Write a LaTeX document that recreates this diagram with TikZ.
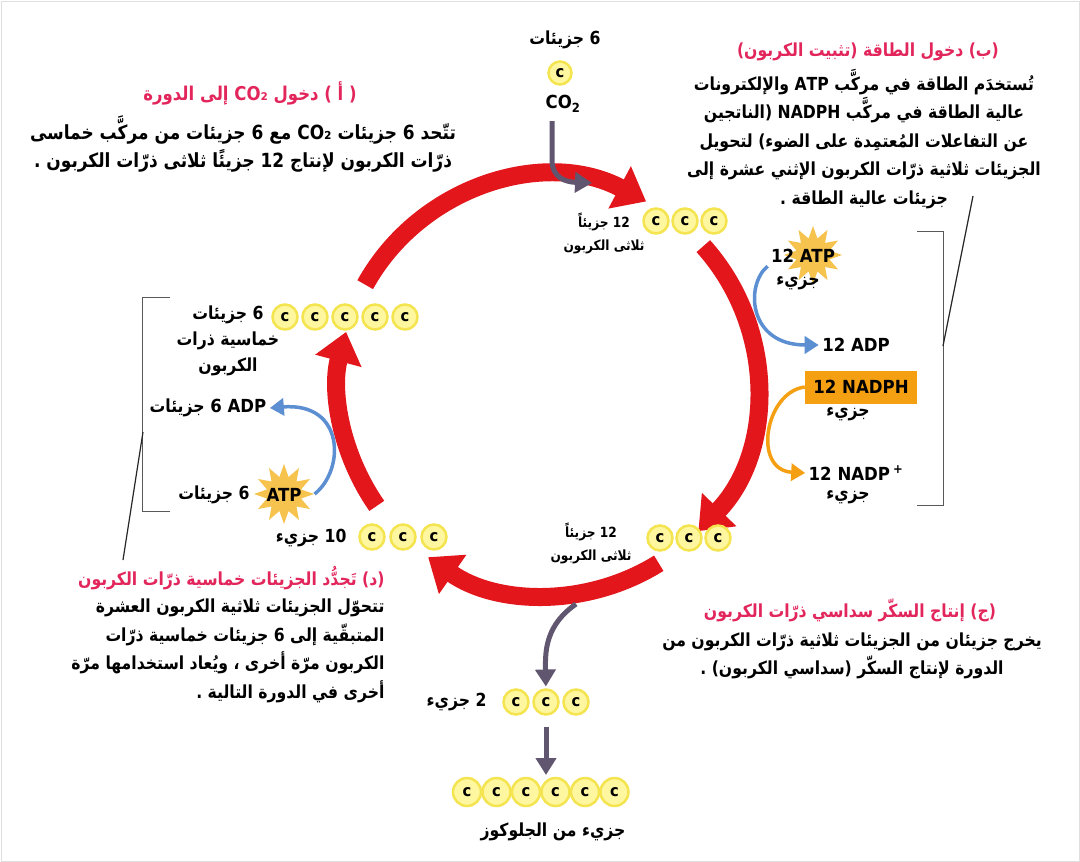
\documentclass[tikz,border=0pt]{standalone}
\usepackage{fontspec}
\setmainfont{DejaVu Sans}[FakeStretch=0.92]
\newfontfamily\arabicfont[Script=Arabic, FakeStretch=0.87]{DejaVu Sans}
\TeXXeTstate=1
\usetikzlibrary{shapes.geometric, arrows.meta, positioning, calc}

\definecolor{cycred}{RGB}{227,22,28}
\definecolor{headpink}{RGB}{226,38,92}
\definecolor{cring}{RGB}{243,228,80}
\definecolor{cinner}{RGB}{255,247,160}
\definecolor{starcol}{RGB}{246,196,78}
\definecolor{arrblue}{RGB}{92,142,210}
\definecolor{arrorange}{RGB}{244,160,18}
\definecolor{arrgray}{RGB}{96,86,112}

\newcommand{\artx}[1]{{\arabicfont\beginR #1\endR}}

\tikzset{
  carbon/.style={circle, draw=cring, fill=cinner, line width=2.5pt, minimum size=25pt, inner sep=0pt, outer sep=0pt, font=\bfseries\fontsize{16}{16}\selectfont},
  bigcarbon/.style={carbon, minimum size=28pt},
  sechead/.style={font=\bfseries\fontsize{18}{28}\selectfont, text=headpink, align=center},
  secbody/.style={font=\bfseries\fontsize{18}{28.5}\selectfont, align=center},
  lbl/.style={font=\bfseries\fontsize{18}{26}\selectfont, align=center},
  smalllbl/.style={font=\bfseries\fontsize{14}{23}\selectfont, align=center},
  burst/.style={star, star points=12, star point ratio=1.7, fill=starcol, inner sep=0pt},
  cycarrow/.style={cycred, line width=18pt, -{Triangle[length=30pt, width=46pt]}},
  thinarrow/.style={line width=3.5pt, -{Triangle[length=14pt, width=17pt]}},
  grayarrow/.style={arrgray, line width=5pt, -{Triangle[length=17pt, width=20pt]}},
  bracket/.style={gray!70!black, line width=1pt},
  ptrline/.style={black!85, line width=1.2pt}
}

\begin{document}
\begin{tikzpicture}[x=1pt, y=-1pt]
\useasboundingbox (0,0) rectangle (1080,862);
\fill[white] (0,0) rectangle (1080,862);
\draw[gray!25] (1,1) rectangle (1079,861);

% Calvin cycle arrows
\coordinate (cen) at (548,386);
\coordinate (ta) at ($(cen)+(209:209)$);
\coordinate (tb) at ($(cen)+(318:209)$);
\coordinate (tc) at ($(cen)+(58:209)$);
\coordinate (td) at ($(cen)+(145:209)$);
\draw[cycarrow] (ta) arc[start angle=209, end angle=298, radius=209];
\draw[cycarrow] (tb) arc[start angle=318, end angle=404, radius=209];
\draw[cycarrow] (tc) arc[start angle=58, end angle=125, radius=209];
\draw[cycarrow] (td) arc[start angle=145, end angle=195, radius=209];

% CO2 entering
\node[lbl] (nco2) at (565,40) {\artx{6 جزيئات}};
\node[carbon, minimum size=23pt] (cco2) at (560,73) {c};
\node[lbl] (lco2) at (563,104) {CO\textsubscript{2}};
\coordinate (co2a) at (552,121);
\coordinate (co2b) at (592,183);
\draw[grayarrow] (co2a) -- (552,160) .. controls (552,178) and (566,182) .. (co2b);

% Carbon groups
\node[carbon] (t1) at (656,221) {c};
\node[carbon, right=4pt of t1] (t2) {c};
\node[carbon, right=4pt of t2] (t3) {c};
\node[smalllbl] (tlab) at (604,233) {\artx{12 جزيئاً}\\ \artx{ثلاثى الكربون}};

\node[carbon] (l1) at (285,317) {c};
\node[carbon, right=5pt of l1] (l2) {c};
\node[carbon, right=5pt of l2] (l3) {c};
\node[carbon, right=5pt of l3] (l4) {c};
\node[carbon, right=5pt of l4] (l5) {c};
\node[lbl] (llab) at (228,341) {\artx{6 جزيئات}\\ \artx{خماسية ذرات}\\ \artx{الكربون}};

\node[carbon] (b1) at (372,537) {c};
\node[carbon, right=6pt of b1] (b2) {c};
\node[carbon, right=6pt of b2] (b3) {c};
\node[lbl, anchor=east] (blab) at (350,538) {\artx{10 جزيء}};

\node[carbon] (r1) at (660,538) {c};
\node[carbon, right=4pt of r1] (r2) {c};
\node[carbon, right=4pt of r2] (r3) {c};
\node[smalllbl] (rlab) at (591,543) {\artx{12 جزيئاً}\\ \artx{ثلاثى الكربون}};

\node[carbon] (s1) at (516,702) {c};
\node[carbon, right=5pt of s1] (s2) {c};
\node[carbon, right=5pt of s2] (s3) {c};
\node[lbl, anchor=east] (slab) at (490,702) {\artx{2 جزيء}};

\node[bigcarbon] (g1) at (467,792) {c};
\node[bigcarbon, right=1.5pt of g1] (g2) {c};
\node[bigcarbon, right=1.5pt of g2] (g3) {c};
\node[bigcarbon, right=1.5pt of g3] (g4) {c};
\node[bigcarbon, right=1.5pt of g4] (g5) {c};
\node[bigcarbon, right=1.5pt of g5] (g6) {c};
\node[lbl] (glab) at (553,832) {\artx{جزيء من الجلوكوز}};

% Sugar leaving the cycle
\coordinate (outa) at (576,604);
\draw[grayarrow, shorten >=3pt] (outa) .. controls (546,625) and (545,650) .. (s2.north);
\draw[grayarrow, shorten <=12pt, shorten >=3pt] (s2.south) -- (s2.south |- g1.north);

% ATP and NADPH (right)
\node[burst, minimum size=58pt] (st12) at (813,255) {};
\node[lbl] (atp12) at (803,256) {12 ATP};
\node[lbl] (atpm) at (798,283) {\artx{جزيء}};
\node[lbl] (adp12) at (856,345) {12 ADP};
\node[lbl, fill=arrorange, minimum width=112pt, minimum height=33pt] (nadph) at (861,387) {12 NADPH};
\node[lbl] (nadphm) at (848,414) {\artx{جزيء}};
\node[lbl] (nadp) at (856,473) {12 NADP\,\textsuperscript{+}};
\node[lbl] (nadpm) at (848,497) {\artx{جزيء}};
\draw[thinarrow, arrblue] (atp12.south west) .. controls (745,285) and (748,345) .. (adp12.west);
\draw[thinarrow, arrorange] (nadph.west) .. controls (765,392) and (752,470) .. (nadp.west);

% ATP (left)
\node[burst, minimum size=60pt] (st6) at (284,494) {};
\node[lbl] (atp6) at (284,495) {ATP};
\node[lbl] (atp6n) at (214,495) {\artx{6 جزيئات}};
\node[lbl] (adp6) at (208,408) {\artx{جزيئات} 6 ADP};
\draw[thinarrow, arrblue] (st6.east) .. controls (345,470) and (345,402) .. (adp6.east);

% Brackets
\draw[bracket] (917,231) -- (943,231) -- (943,505) -- (917,505);
\draw[bracket] (170,297) -- (142,297) -- (142,511) -- (170,511);
\coordinate (brR) at (943,346);
\coordinate (brRt) at (973,196);
\coordinate (brL) at (143,432);
\coordinate (brLt) at (123,560);
\draw[ptrline] (brR) -- (brRt);
\draw[ptrline] (brL) -- (brLt);

% Section texts
\node[sechead, font=\bfseries\fontsize{19}{28}\selectfont] (hA) at (250,93) {\artx{( أ ) دخول CO₂ إلى الدورة}};
\node[secbody, font=\bfseries\fontsize{19.5}{28}\selectfont] (bA) at (243,144) {\artx{تتّحد 6 جزيئات CO₂ مع 6 جزيئات من مركَّب خماسى}\\
  \artx{ذرّات الكربون لإنتاج 12 جزيئًا ثلاثى ذرّات الكربون .}};

\node[sechead] (hB) at (868,52) {\artx{(ب) دخول الطاقة (تثبيت الكربون)}};
\node[secbody] (bB) at (864,139) {\artx{تُستخدَم الطاقة في مركَّب ATP والإلكترونات}\\
  \artx{عالية الطاقة في مركَّب NADPH (الناتجين}\\
  \artx{عن التفاعلات المُعتمِدة على الضوء) لتحويل}\\
  \artx{الجزيئات ثلاثية ذرّات الكربون الإثني عشرة إلى}\\
  \artx{جزيئات عالية الطاقة .}};

\node[sechead] (hC) at (850,610) {\artx{(ج) إنتاج السكّر سداسي ذرّات الكربون}};
\node[secbody] (bC) at (852,656) {\artx{يخرج جزيئان من الجزيئات ثلاثية ذرّات الكربون من}\\
  \artx{الدورة لإنتاج السكّر (سداسي الكربون) .}};

\node[sechead, anchor=east] (hD) at (388,578) {\artx{(د) تَجدُّد الجزيئات خماسية ذرّات الكربون}};
\node[secbody, align=right, anchor=east] (bD) at (388,651) {\artx{تتحوّل الجزيئات ثلاثية الكربون العشرة}\\
  \artx{المتبقّية إلى 6 جزيئات خماسية ذرّات}\\
  \artx{الكربون مرّة أخرى ، ويُعاد استخدامها مرّة}\\
  \artx{أخرى في الدورة التالية .}};
\end{tikzpicture}
\end{document}
